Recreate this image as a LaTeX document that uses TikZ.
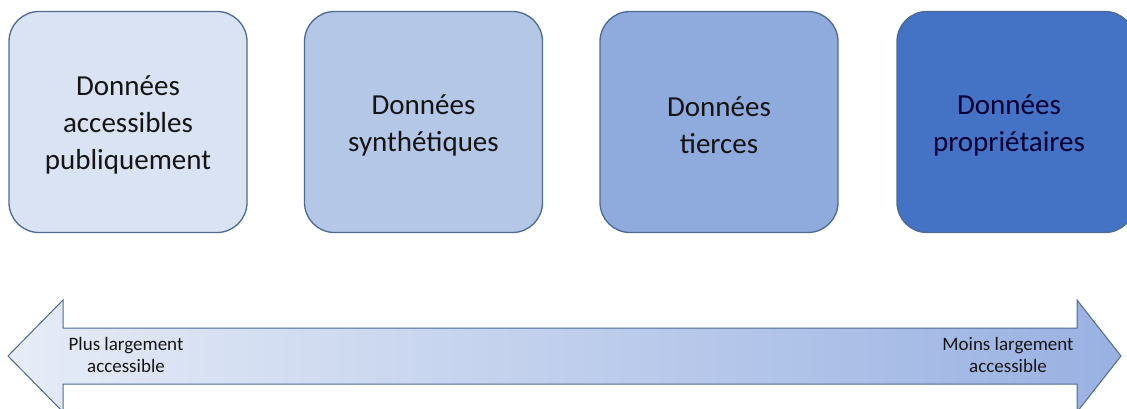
\documentclass[tikz,border=0pt]{standalone}
\usepackage{fontspec}
\setmainfont{Carlito}
\definecolor{bA}{HTML}{DAE3F3}
\definecolor{bB}{HTML}{B4C7E7}
\definecolor{bC}{HTML}{8FAADC}
\definecolor{bD}{HTML}{4472C4}
\definecolor{edge}{HTML}{4E6A92}
\definecolor{txt}{HTML}{141414}
\definecolor{arL}{HTML}{E6ECF7}
\definecolor{arR}{HTML}{99B1E2}
\begin{document}
\begin{tikzpicture}[x=1pt,y=-1pt,
  databox/.style={draw=edge, line width=1.3pt, rounded corners=30pt, minimum width=238pt, minimum height=221pt, inner sep=0pt},
  boxtext/.style={text width=236pt, align=center, font=\fontsize{29}{37}\selectfont, text=txt, inner sep=0pt},
  small/.style={font=\fontsize{19}{22}\selectfont, text=txt, align=center, inner sep=0pt}]
\useasboundingbox (0,0) rectangle (1127,409);
\begin{scope}
\clip (0,0) rectangle (1127,409);
\node[databox, fill=bA] (b1) at (128,122) {};
\node[databox, fill=bB] (b2) at (423.5,122) {};
\node[databox, fill=bC] (b3) at (719,122) {};
\node[databox, fill=bD] (b4) at (1016,122) {};
\shade[left color=arL, right color=arR, draw=edge, line width=1pt]
  (8,356) -- (63,300) -- (63,328) -- (1077,328) -- (1077,300) -- (1121,356)
  -- (1077,412) -- (1077,384) -- (63,384) -- (63,412) -- cycle;
\end{scope}
\node[boxtext] (t1) at (128,125) {Données\\accessibles\\publiquement};
\node[boxtext] (t2) at (423.5,125) {Données\\synthétiques};
\node[boxtext] (t3) at (719,125) {Données\\tierces};
\node[boxtext, text=black!80!blue] (t4) at (1009,125) {Données\\propriétaires};
\node[small] (l) at (126,355) {Plus largement\\accessible};
\node[small] (r) at (1008,355) {Moins largement\\accessible};
\end{tikzpicture}
\end{document}
